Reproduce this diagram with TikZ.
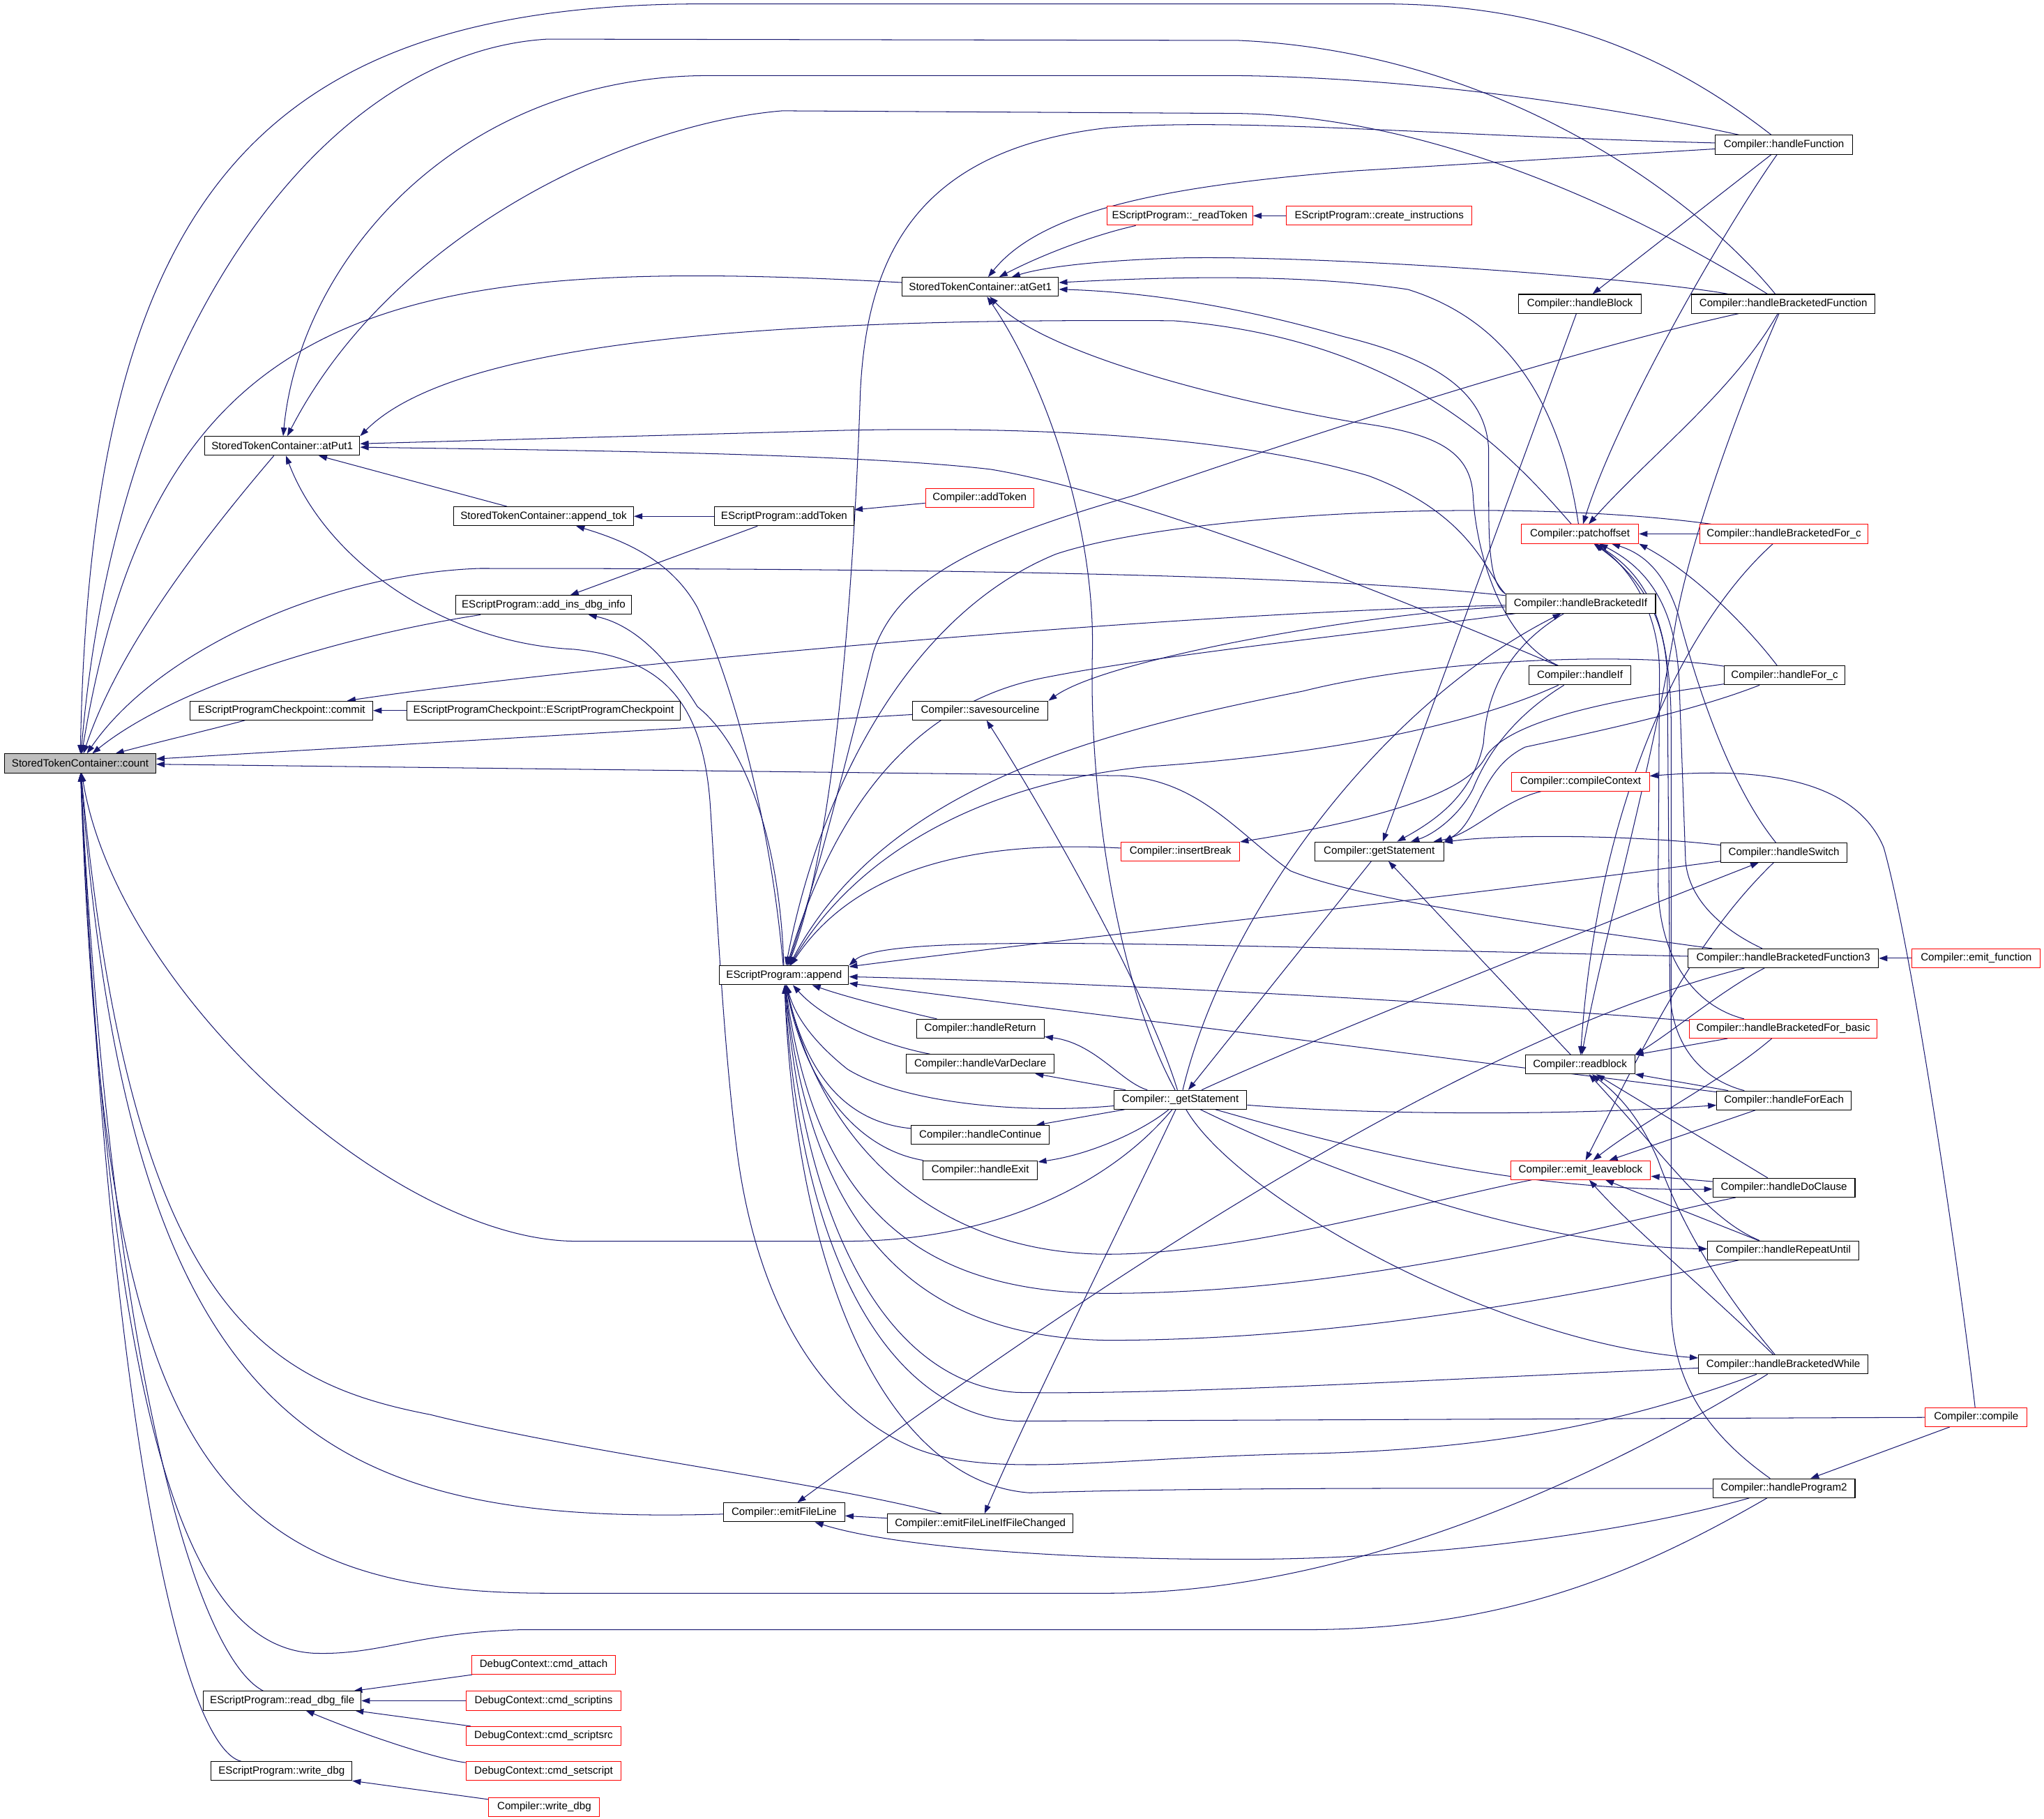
\documentclass[tikz,border=0pt]{standalone}
\usepackage{fontspec}
\setmainfont{Liberation Sans}
\usetikzlibrary{arrows.meta}
\definecolor{edgec}{HTML}{191970}
\definecolor{countgray}{HTML}{BFBFBF}
\newcommand{\gnodefont}{\fontsize{8.1}{9.7}\selectfont}
\pgfdeclarelayer{bg}
\pgfsetlayers{bg,main}
\begin{document}
\begin{tikzpicture}[x=1pt,y=-1pt,
  nb/.style={draw=black, line width=0.55pt, fill=white, minimum height=14.5pt, inner xsep=1pt, inner ysep=0pt, font=\gnodefont, text=black},
  rb/.style={nb, draw=red},
  ed/.style={draw=edgec, line width=0.55pt, -{Triangle[length=6.5pt,width=4.5pt]}, fill=none}]
\useasboundingbox (0,0) rectangle (1568,1395);
% ---------------- nodes
\node[nb, minimum width=116pt, fill=countgray] (count) at (61.5,585.5) {StoredTokenContainer::count};
\node[nb, minimum width=119pt] (atPut1) at (216.5,342) {StoredTokenContainer::atPut1};
\node[nb, minimum width=140pt] (commit) at (216,545) {EScriptProgramCheckpoint::commit};
\node[nb, minimum width=121pt] (readdbg) at (216.5,1304.5) {EScriptProgram::read\_dbg\_file};
\node[nb, minimum width=108pt] (writedbg) at (216,1358.5) {EScriptProgram::write\_dbg};
\node[nb, minimum width=138pt] (appendtok) at (417,396) {StoredTokenContainer::append\_tok};
\node[nb, minimum width=135pt] (addins) at (417,464) {EScriptProgram::add\_ins\_dbg\_info};
\node[nb, minimum width=209.5pt] (ckpt) at (417,545) {EScriptProgramCheckpoint::EScriptProgramCheckpoint};
\node[rb, minimum width=110pt] (cattach) at (417,1277) {DebugContext::cmd\_attach};
\node[rb, minimum width=119pt] (cscriptins) at (417,1304.5) {DebugContext::cmd\_scriptins};
\node[rb, minimum width=119pt] (cscriptsrc) at (417,1331.5) {DebugContext::cmd\_scriptsrc};
\node[rb, minimum width=119pt] (csetscript) at (417,1358.5) {DebugContext::cmd\_setscript};
\node[rb, minimum width=85pt] (cwritedbg) at (417.5,1386) {Compiler::write\_dbg};
\node[nb, minimum width=107pt] (addToken) at (601.5,396) {EScriptProgram::addToken};
\node[nb, minimum width=99pt] (append) at (601.5,748) {EScriptProgram::append};
\node[nb, minimum width=93pt] (emitFL) at (601.5,1160) {Compiler::emitFileLine};
\node[nb, minimum width=120pt] (atGet1) at (752,220) {StoredTokenContainer::atGet1};
\node[rb, minimum width=83pt] (caddToken) at (751.5,382) {Compiler::addToken};
\node[nb, minimum width=104pt] (saveline) at (752,545) {Compiler::savesourceline};
\node[nb, minimum width=98pt] (hReturn) at (752,789) {Compiler::handleReturn};
\node[nb, minimum width=113.5pt] (hVar) at (752,816) {Compiler::handleVarDeclare};
\node[nb, minimum width=106pt] (hContinue) at (752,870.5) {Compiler::handleContinue};
\node[nb, minimum width=88pt] (hExit) at (752,897.5) {Compiler::handleExit};
\node[nb, minimum width=142pt] (emitFLC) at (752,1168.5) {Compiler::emitFileLineIfFileChanged};
\node[rb, minimum width=112pt] (readToken) at (905,165.5) {EScriptProgram::\_readToken};
\node[rb, minimum width=91pt] (insertBreak) at (905.5,653) {Compiler::insertBreak};
\node[nb, minimum width=102pt] (uGetStmt) at (905.5,843.5) {Compiler::\_getStatement};
\node[rb, minimum width=142pt] (createInstr) at (1058,165.5) {EScriptProgram::create\_instructions};
\node[nb, minimum width=99pt] (getStmt) at (1058,653) {Compiler::getStatement};
\node[nb, minimum width=94pt] (hBlock) at (1212,233) {Compiler::handleBlock};
\node[rb, minimum width=90pt] (patch) at (1212,409.5) {Compiler::patchoffset};
\node[nb, minimum width=115pt] (hBrIf) at (1212.5,463) {Compiler::handleBracketedIf};
\node[nb, minimum width=78pt] (hIf) at (1212,518) {Compiler::handleIf};
\node[rb, minimum width=105.5pt] (compileCtx) at (1212.5,599.5) {Compiler::compileContext};
\node[nb, minimum width=84pt] (readblock) at (1212,816.5) {Compiler::readblock};
\node[rb, minimum width=107.5pt] (leave) at (1212.5,897.5) {Compiler::emit\_leaveblock};
\node[nb, minimum width=105pt] (hFunc) at (1368.5,111) {Compiler::handleFunction};
\node[nb, minimum width=141pt] (hBrFunc) at (1368,233) {Compiler::handleBracketedFunction};
\node[rb, minimum width=129pt] (hBrForC) at (1368.5,409.5) {Compiler::handleBracketedFor\_c};
\node[nb, minimum width=92.5pt] (hForC) at (1369,518) {Compiler::handleFor\_c};
\node[nb, minimum width=97pt] (hSwitch) at (1368.5,654) {Compiler::handleSwitch};
\node[nb, minimum width=146pt] (hBrFunc3) at (1368,735) {Compiler::handleBracketedFunction3};
\node[rb, minimum width=144pt] (hBrForBasic) at (1368,789) {Compiler::handleBracketedFor\_basic};
\node[nb, minimum width=103pt] (hForEach) at (1368.5,844) {Compiler::handleForEach};
\node[nb, minimum width=109pt] (hDo) at (1368.5,911) {Compiler::handleDoClause};
\node[nb, minimum width=116pt] (hRepeat) at (1368,959) {Compiler::handleRepeatUntil};
\node[nb, minimum width=130pt] (hBrWhile) at (1368,1046.5) {Compiler::handleBracketedWhile};
\node[nb, minimum width=109pt] (hProg2) at (1368.5,1141.5) {Compiler::handleProgram2};
\node[rb, minimum width=98.5pt] (emitFunc) at (1516,735) {Compiler::emit\_function};
\node[rb, minimum width=78pt] (compile) at (1516,1087) {Compiler::compile};
% ---------------- edges
\begin{pgfonlayer}{bg}
% callers of count
\draw[ed] (hFunc) .. controls (1290,50) and (1200,3) .. (1060,3) -- (540,3) .. controls (200,3) and (70,150) .. (count);
\draw[ed] (hBrFunc) .. controls (1300,150) and (1150,40) .. (950,31) -- (420,30) .. controls (250,40) and (90,250) .. (count);
\draw[ed] (atGet1) .. controls (300,195) and (120,230) .. (count);
\draw[ed] (atPut1) .. controls (150,420) and (90,500) .. (count);
\draw[ed] (hBrIf) .. controls (1000,440) and (700,436) .. (368,436) .. controls (250,440) and (120,500) .. (count);
\draw[ed] (addins) .. controls (250,490) and (130,530) .. (count);
\draw[ed] (commit) .. controls (160,560) and (110,572) .. (count);
\draw[ed] (saveline) -- (count);
\draw[ed] (hBrFunc3) .. controls (1150,705) and (1040,688) .. (990,668) .. controls (950,640) and (920,598) .. (860,595) -- (count);
\draw[ed] (uGetStmt) .. controls (850,910) and (760,952) .. (650,952) -- (440,952) .. controls (300,950) and (90,760) .. (count);
\draw[ed] (emitFLC) .. controls (620,1135) and (450,1115) .. (330,1085) .. controls (200,1060) and (100,1000) .. (count);
\draw[ed] (emitFL) .. controls (250,1170) and (100,1100) .. (count);
\draw[ed] (hBrWhile) .. controls (1250,1120) and (1050,1222) .. (850,1222) -- (420,1222) .. controls (150,1222) and (80,1100) .. (count);
\draw[ed] (hProg2) .. controls (1250,1210) and (1150,1250) .. (1000,1250) -- (400,1250) .. controls (320,1252) and (290,1270) .. (240,1268) .. controls (150,1262) and (85,1120) .. (count);
\draw[ed] (readdbg) .. controls (150,1270) and (85,1050) .. (count);
\draw[ed] (writedbg) .. controls (140,1340) and (85,1100) .. (count);
% callers of atPut1
\draw[ed] (hFunc) .. controls (1250,85) and (1100,60) .. (950,58) -- (540,58) .. controls (350,60) and (230,200) .. (atPut1);
\draw[ed] (hBrFunc) .. controls (1250,160) and (1100,90) .. (950,87) -- (600,85) .. controls (480,95) and (300,180) .. (atPut1);
\draw[ed] (patch) .. controls (1160,350) and (1080,260) .. (900,246) .. controls (600,244) and (350,260) .. (atPut1.north east);
\draw[ed] (hBrIf.north west) .. controls (1140,440) and (1130,395) .. (1050,365) .. controls (950,335) and (800,327) .. (650,330) -- (atPut1);
\draw[ed] (hIf) .. controls (1100,470) and (880,380) .. (760,360) .. controls (650,347) and (400,345) .. (atPut1);
\draw[ed] (appendtok) -- (atPut1);
\draw[ed] (hBrWhile) .. controls (1250,1090) and (1150,1112) .. (1000,1115) .. controls (850,1118) and (760,1135) .. (700,1110) .. controls (630,1080) and (580,1000) .. (565,880) .. controls (555,800) and (550,700) .. (545,620) .. controls (540,540) and (510,505) .. (440,498) .. controls (340,493) and (250,430) .. (atPut1);
% callers of atGet1
\draw[ed] (hFunc) -- (1040,131) .. controls (900,142) and (800,160) .. (atGet1);
\draw[ed] (readToken) .. controls (840,180) and (800,195) .. (atGet1);
\draw[ed] (hBrFunc) .. controls (1250,212) and (1000,195) .. (900,198) .. controls (840,200) and (800,205) .. (atGet1);
\draw[ed] (patch) .. controls (1200,330) and (1170,250) .. (1080,222) .. controls (1000,210) and (900,212) .. (atGet1);
\draw[ed] (hBrIf.north west) .. controls (1143,448) and (1142,420) .. (1142,380) -- (1142,345) .. controls (1140,300) and (1100,275) .. (1030,258) .. controls (950,235) and (880,224) .. (atGet1);
\draw[ed] (hIf) .. controls (1150,490) and (1132,420) .. (1130,380) .. controls (1128,345) and (1100,332) .. (1040,324) .. controls (930,305) and (800,270) .. (atGet1);
\draw[ed] (uGetStmt) .. controls (860,760) and (835,620) .. (838,500) .. controls (840,400) and (800,290) .. (atGet1);
% callers of patchoffset
\draw[ed] (hFunc) .. controls (1320,180) and (1240,320) .. (patch);
\draw[ed] (hBrFunc) .. controls (1330,300) and (1265,350) .. (patch);
\draw[ed] (hBrForC) -- (patch);
\draw[ed] (hForC) .. controls (1340,480) and (1300,440) .. (patch.south east);
\draw[ed] (hBrFunc3) .. controls (1340,722) and (1296,700) .. (1293,660) -- (1288,520) .. controls (1285,470) and (1268,438) .. (patch);
\draw[ed] (hForEach) .. controls (1320,832) and (1283,815) .. (1281,760) -- (1279,520) .. controls (1278,470) and (1255,440) .. (patch);
\draw[ed] (hBrForBasic) .. controls (1300,772) and (1273,735) .. (1272,680) -- (1273,520) .. controls (1274,470) and (1250,435) .. (patch);
\draw[ed] (hSwitch) .. controls (1325,600) and (1300,520) .. (1287,470) .. controls (1277,440) and (1262,425) .. (patch);
\draw[ed] (hProg2) .. controls (1310,1100) and (1282,1060) .. (1282,1000) -- (1282,560) .. controls (1282,470) and (1260,440) .. (patch);
% callers of readblock
\draw[ed] (hBrFunc) .. controls (1330,320) and (1295,420) .. (1285,480) .. controls (1265,600) and (1230,720) .. (readblock);
\draw[ed] (hBrForC) .. controls (1290,480) and (1225,620) .. (readblock);
\draw[ed] (hBrFunc3) .. controls (1320,760) and (1285,790) .. (readblock.north east);
\draw[ed] (hBrForBasic) -- (readblock);
\draw[ed] (hForEach) -- (readblock);
\draw[ed] (hDo) -- (readblock);
\draw[ed] (hRepeat) .. controls (1310,935) and (1280,890) .. (readblock);
\draw[ed] (hBrWhile) .. controls (1320,990) and (1290,940) .. (1272,890) .. controls (1255,850) and (1235,835) .. (readblock);
% callers of emit_leaveblock
\draw[ed] (hDo) -- (leave);
\draw[ed] (hRepeat) -- (leave);
\draw[ed] (hForEach) -- (leave);
\draw[ed] (hBrForBasic) .. controls (1320,830) and (1260,860) .. (leave);
\draw[ed] (hSwitch) .. controls (1300,720) and (1262,800) .. (leave);
\draw[ed] (hBrWhile) .. controls (1310,990) and (1250,940) .. (leave);
% callers of getStatement
\draw[ed] (hBlock) -- (getStmt);
\draw[ed] (hBrIf) .. controls (1150,500) and (1140,540) .. (1138,570) .. controls (1130,610) and (1100,630) .. (getStmt);
\draw[ed] (hIf) .. controls (1160,550) and (1140,580) .. (1130,605) .. controls (1120,625) and (1100,640) .. (getStmt);
\draw[ed] (compileCtx) .. controls (1150,615) and (1130,640) .. (getStmt);
\draw[ed] (hForC) .. controls (1300,545) and (1230,560) .. (1170,573) .. controls (1135,590) and (1135,630) .. (getStmt.north east);
\draw[ed] (hSwitch) .. controls (1250,640) and (1150,640) .. (getStmt);
\draw[ed] (readblock) -- (getStmt);
% _getStatement
\draw[ed] (getStmt) -- (uGetStmt);
\draw[ed] (uGetStmt) .. controls (860,830) and (840,800) .. (hReturn);
\draw[ed] (uGetStmt) -- (hVar);
\draw[ed] (uGetStmt) -- (hContinue);
\draw[ed] (uGetStmt) .. controls (880,865) and (840,885) .. (hExit);
\draw[ed] (uGetStmt) .. controls (780,855) and (690,845) .. (650,820) .. controls (625,800) and (610,780) .. (append);
\draw[ed] (uGetStmt) .. controls (880,760) and (800,620) .. (saveline);
\draw[ed] (uGetStmt) .. controls (860,940) and (790,1080) .. (emitFLC);
\draw[ed] (uGetStmt) .. controls (940,700) and (1060,540) .. (hBrIf);
\draw[ed] (uGetStmt) .. controls (1000,800) and (1200,720) .. (hSwitch);
\draw[ed] (uGetStmt) .. controls (1050,855) and (1200,856) .. (hForEach);
\draw[ed] (uGetStmt) .. controls (1000,870) and (1150,915) .. (hDo);
\draw[ed] (uGetStmt) .. controls (980,880) and (1150,955) .. (hRepeat);
\draw[ed] (uGetStmt) .. controls (950,920) and (1150,1030) .. (hBrWhile);
% append as caller
\draw[ed] (append) .. controls (590,620) and (560,520) .. (535,466) .. controls (515,430) and (480,415) .. (appendtok);
\draw[ed] (append) .. controls (598,640) and (570,570) .. (535,542) .. controls (515,510) and (490,480) .. (addins);
% callers of append
\draw[ed] (hFunc) .. controls (1100,104) and (950,90) .. (850,98) .. controls (700,115) and (665,200) .. (660,300) .. controls (655,450) and (640,650) .. (append);
\draw[ed] (hBrFunc) .. controls (1200,270) and (1000,335) .. (870,380) .. controls (760,412) and (690,440) .. (670,500) .. controls (650,580) and (625,680) .. (append);
\draw[ed] (hBrForC) .. controls (1150,380) and (900,395) .. (810,425) .. controls (700,470) and (630,600) .. (append);
\draw[ed] (hBrIf) .. controls (1100,480) and (900,500) .. (800,520) .. controls (700,540) and (640,620) .. (append);
\draw[ed] (hIf) .. controls (1120,560) and (1000,580) .. (880,588) .. controls (760,600) and (660,650) .. (append);
\draw[ed] (hForC) .. controls (1250,500) and (1100,505) .. (1000,530) .. controls (850,560) and (680,600) .. (append);
\draw[ed] (insertBreak) .. controls (760,645) and (660,660) .. (append);
\draw[ed] (hBrFunc3) .. controls (900,725) and (680,715) .. (append.north east);
\draw[ed] (hSwitch) .. controls (1100,690) and (800,722) .. (append);
\draw[ed] (hBrForBasic) .. controls (1200,775) and (900,755) .. (append);
\draw[ed] (hForEach) -- (append);
\draw[ed] (hReturn) .. controls (690,775) and (650,765) .. (append);
\draw[ed] (hVar) .. controls (670,800) and (630,780) .. (append);
\draw[ed] (hContinue) .. controls (640,860) and (615,810) .. (append);
\draw[ed] (hExit) .. controls (650,880) and (615,820) .. (append);
\draw[ed] (leave) .. controls (1100,920) and (950,962) .. (850,962) .. controls (720,962) and (630,880) .. (append);
\draw[ed] (hDo) .. controls (1250,935) and (1050,992) .. (850,992) .. controls (700,992) and (625,920) .. (append);
\draw[ed] (hRepeat) .. controls (1250,985) and (1050,1028) .. (850,1028) .. controls (700,1026) and (622,940) .. (append);
\draw[ed] (hBrWhile) .. controls (1100,1058) and (900,1070) .. (780,1068) .. controls (690,1062) and (620,960) .. (append);
\draw[ed] (compile) -- (780,1090) .. controls (690,1085) and (615,980) .. (append);
\draw[ed] (hProg2) .. controls (1200,1142) and (950,1140) .. (790,1145) .. controls (690,1138) and (612,1000) .. (append);
% emitFileLine
\draw[ed] (emitFLC) -- (emitFL);
\draw[ed] (hBrFunc3) .. controls (1150,790) and (900,940) .. (emitFL);
\draw[ed] (hProg2) .. controls (1250,1175) and (1100,1196) .. (950,1196) .. controls (800,1196) and (680,1185) .. (emitFL);
% misc
\draw[ed] (createInstr) -- (readToken);
\draw[ed] (caddToken) -- (addToken);
\draw[ed] (addToken) -- (appendtok);
\draw[ed] (addToken) -- (addins);
\draw[ed] (ckpt) -- (commit);
\draw[ed] (hBrIf) .. controls (900,470) and (450,510) .. (commit);
\draw[ed] (hBrIf) .. controls (1050,470) and (850,505) .. (saveline.north east);
\draw[ed] (cattach) -- (readdbg);
\draw[ed] (cscriptins) -- (readdbg);
\draw[ed] (cscriptsrc) -- (readdbg);
\draw[ed] (csetscript) .. controls (340,1350) and (290,1335) .. (readdbg);
\draw[ed] (cwritedbg) -- (writedbg);
\draw[ed] (emitFunc) -- (hBrFunc3);
\draw[ed] (compile) -- (hProg2);
\draw[ed] (compile) .. controls (1500,950) and (1465,720) .. (1445,650) .. controls (1420,590) and (1330,590) .. (compileCtx);
\draw[ed] (hFunc) -- (hBlock);
\draw[ed] (hForC) .. controls (1250,535) and (1160,550) .. (1140,580) .. controls (1125,610) and (1050,630) .. (insertBreak);
\end{pgfonlayer}
\end{tikzpicture}
\end{document}
